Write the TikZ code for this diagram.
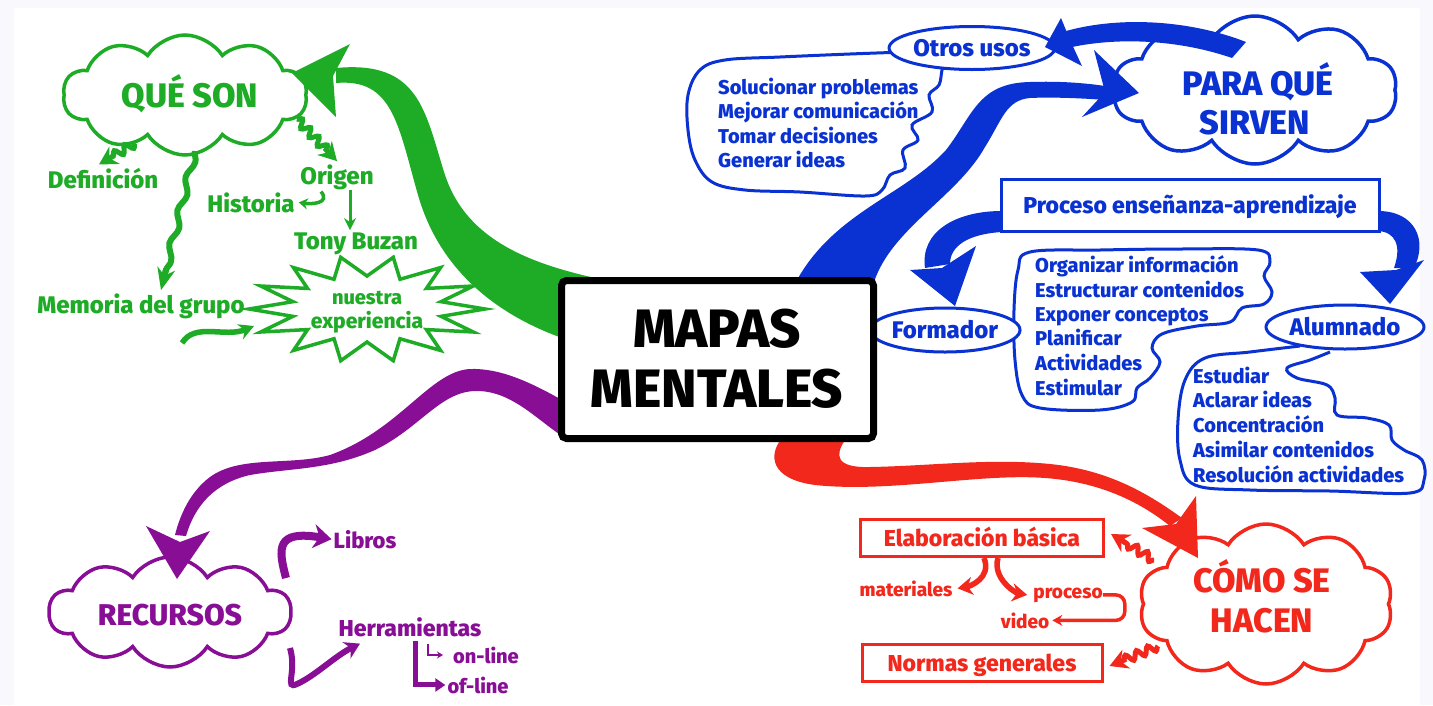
\documentclass[tikz,border=0pt]{standalone}
\usepackage{fontspec}
\setmainfont{Fira Sans}[BoldFont={Fira Sans ExtraBold}]
\usetikzlibrary{shapes.symbols,shapes.geometric,decorations.pathmorphing,arrows.meta,calc}
\definecolor{cgreen}{RGB}{30,172,38}
\definecolor{cblue}{RGB}{10,50,210}
\definecolor{cred}{RGB}{242,40,28}
\definecolor{cpurple}{RGB}{136,14,150}
\definecolor{bgc}{RGB}{248,248,253}
\tikzset{
 cloudn/.style={cloud, cloud puffs=10, cloud puff arc=115, cloud ignores aspect, draw, line width=3.5pt, fill=white, inner sep=0pt},
 bigt/.style={font=\bfseries\fontsize{34}{38}\selectfont, anchor=base, inner sep=0pt},
 lab/.style={font=\bfseries\fontsize{24}{28}\selectfont, anchor=base, inner sep=0pt},
 lst/.style={font=\bfseries\fontsize{20}{24}\selectfont, anchor=base west, inner sep=0pt, text=cblue},
 sml/.style={font=\bfseries\fontsize{19}{22}\selectfont, anchor=base, inner sep=0pt},
 squig/.style={decorate, decoration={snake, amplitude=4pt, segment length=12pt}, line width=5pt},
 squighead/.style={line width=5pt, -{Stealth[length=18pt,width=20pt]}},
 hookarr/.style={line width=5.5pt, -{Stealth[length=15pt,width=18pt]}},
 ovalbox/.style={ellipse, draw=cblue, line width=3pt, fill=white, text=cblue, font=\bfseries\fontsize{24}{28}\selectfont, inner sep=0pt, text height=17pt, text depth=0pt},
 rectbox/.style={rectangle, line width=3pt, fill=white, font=\bfseries\fontsize{23}{27}\selectfont, inner sep=0pt, text height=16pt, text depth=0pt},
 balloon/.style={draw=cblue, line width=3pt, fill=white},
}
\begin{document}
\begin{tikzpicture}[x=1pt,y=-1pt]
\useasboundingbox (0,0) rectangle (1433,705);
\fill[bgc] (0,0) rectangle (1433,705);
\fill[white] (14,8) rectangle (1420,705);

% ================= GREEN =================
\node[cloudn, draw=cgreen, minimum width=244, minimum height=120] (queson) at (185,95) {};
\node[bigt, text=cgreen] (quesonT) at (190,107) {QUÉ SON};
\draw[cgreen, line width=3.5pt, fill=white] plot[samples at={0,...,27}] ({367+(mod(\x,2)==0?118:76)*cos(\x*360/28)}, {309+(mod(\x,2)==0?53:33)*sin(\x*360/28)}) -- cycle;
\node[font=\bfseries\fontsize{20}{24}\selectfont, anchor=base, inner sep=0pt, text=cgreen] (nuestra) at (367,304) {nuestra};
\node[font=\bfseries\fontsize{21}{24}\selectfont, anchor=base, inner sep=0pt, text=cgreen] (experiencia) at (367,328) {experiencia};

\node[lab, text=cgreen] (defin) at (103,188) {Definición};
\node[lab, text=cgreen] (origen) at (337,184) {Origen};
\node[lab, text=cgreen] (historia) at (251,212) {Historia};
\node[lab, text=cgreen] (tony) at (356,249) {Tony Buzan};
\node[lab, text=cgreen] (memoria) at (141,313) {Memoria del grupo};

% squiggly arrows from QUE SON
\coordinate (qs1) at ([shift={(-50,48)}]queson.center);
\coordinate (qd) at ([xshift=-4,yshift=3]defin.north);
\draw[squig, cgreen] (qs1) -- ($(qd)!14pt!(qs1)$);
\draw[squighead, cgreen] ($(qd)!18pt!(qs1)$) -- (qd);
\coordinate (qs2) at ([shift={(112,24)}]queson.center);
\coordinate (qo) at ([xshift=0,yshift=3]origen.north);
\draw[squig, cgreen] (qs2) -- ($(qo)!14pt!(qs2)$);
\draw[squighead, cgreen] ($(qo)!18pt!(qs2)$) -- (qo);
\coordinate (qs3) at ([shift={(10,56)}]queson.center);
\coordinate (qm) at ([xshift=20,yshift=3]memoria.north);
\draw[cgreen, decorate, decoration={snake, amplitude=3pt, segment length=34pt}, line width=6pt] (qs3) -- ($(qm)!18pt!(qs3)$);
\draw[cgreen, line width=6pt, -{Stealth[length=22pt,width=18pt]}] ($(qm)!22pt!(qs3)$) -- (qm);

\draw[cgreen, line width=3pt, -{Stealth[length=12pt,width=12pt]}] ([xshift=13]origen.south) -- ([xshift=-6,yshift=2]tony.north);
\draw[cgreen, line width=3.5pt, -{Stealth[length=9pt,width=11pt]}] ([xshift=-16,yshift=-2]origen.south) .. controls +(10,12) and +(12,2) .. ([xshift=4]historia.east);
\coordinate (mstart) at (182,343);
\coordinate (starW) at (254,326);
\draw[cgreen, line width=5.5pt, -{Stealth[length=15pt,width=16pt]}] (mstart) .. controls (195,322) and (225,338) .. (starW);

\fill[cgreen] (600,279) .. controls (520,262) and (465,235) .. (445,175) .. controls (425,112) and (420,60) .. (336,68) -- (336,83) .. controls (393,78) and (398,125) .. (418,195) .. controls (438,265) and (490,312) .. (562,338) -- cycle;
\fill[cgreen] (292,73) -- (350,44) -- (333,76) -- (336,117) -- cycle;

% ================= PURPLE =================
\node[cloudn, draw=cpurple, minimum width=242, minimum height=110] (recursos) at (170,612) {};
\node[font=\bfseries\fontsize{30}{34}\selectfont, anchor=base, inner sep=0pt, text=cpurple] (recursosT) at (170,625) {RECURSOS};
\fill[cpurple] (562,400) .. controls (530,382) and (500,368) .. (470,369) .. controls (430,371) and (400,430) .. (330,455) .. controls (290,466) and (240,455) .. (210,477) .. controls (190,492) and (180,515) .. (175,535) -- (186,536) .. controls (195,505) and (215,483) .. (250,475) .. controls (290,468) and (330,470) .. (375,450) .. controls (420,428) and (440,392) .. (475,391) .. controls (510,390) and (535,418) .. (562,436) -- cycle;
\fill[cpurple] (177,579) -- (146,526) -- (180,542) -- (210,531) -- cycle;

\node[font=\bfseries\fontsize{22}{26}\selectfont, anchor=base, inner sep=0pt, text=cpurple] (libros) at (365,548) {Libros};
\node[font=\bfseries\fontsize{23}{27}\selectfont, anchor=base, inner sep=0pt, text=cpurple] (herr) at (410,636) {Herramientas};
\node[font=\bfseries\fontsize{20}{24}\selectfont, anchor=base, inner sep=0pt, text=cpurple] (online) at (486,663) {on-line};
\node[font=\bfseries\fontsize{20}{24}\selectfont, anchor=base, inner sep=0pt, text=cpurple] (ofline) at (478,693) {of-line};

\draw[cpurple, line width=8pt, -{Stealth[length=18pt,width=24pt]}] ([shift={(116,-34)}]recursos.center) .. controls (278,548) and (276,530) .. ([xshift=-2]libros.west);
\draw[cpurple, line width=6pt, -{Stealth[length=15pt,width=18pt]}] ([shift={(120,36)}]recursos.center) .. controls (297,672) and (284,690) .. (297,684) .. controls (315,676) and (335,656) .. ([xshift=-50,yshift=-7]herr.south);
\draw[cpurple, line width=5pt, -{Triangle[length=10pt,width=13pt]}] ([xshift=5,yshift=-4]herr.south) |- ([xshift=-2]ofline.west);
\draw[cpurple, line width=1.8pt, -{Stealth[length=6pt,width=7pt]}] ([xshift=-25,yshift=11]online.west) |- ([xshift=-10]online.west);

% ================= BLUE =================
\draw[balloon] plot[smooth, tension=0.6] coordinates {(905,52) (850,54) (780,57) (725,60) (700,70) (688,95) (688,130) (695,160) (712,182) (745,190) (800,192) (865,196) (882,190) (890,175) (905,168) (903,150) (918,140) (912,125) (932,112) (929,95) (939,85) (942,70) (945,62)};
\node[ovalbox, minimum width=148, minimum height=43] (otros) at (972,48) {Otros usos};
\node[lst] (l1) at (718,94) {Solucionar problemas};
\node[lst] (l2) at (718,118) {Mejorar comunicación};
\node[lst] (l3) at (718,143) {Tomar decisiones};
\node[lst] (l4) at (718,167) {Generar ideas};

\node[cloudn, draw=cblue, minimum width=284, minimum height=148] (paraque) at (1255,90) {};
\node[bigt, text=cblue] (paraqueT1) at (1258,95) {PARA QUÉ};
\node[bigt, text=cblue] (paraqueT2) at (1255,134) {SIRVEN};

\node[rectbox, draw=cblue, text=cblue, minimum width=378, minimum height=52] (proceso) at (1190,205) {Proceso enseñanza-aprendizaje};

\draw[balloon] plot[smooth cycle, tension=0.6] coordinates {(1030,252) (1100,250) (1180,249) (1258,250) (1270,262) (1264,276) (1272,292) (1264,304) (1242,308) (1230,322) (1197,326) (1162,334) (1152,348) (1160,362) (1150,378) (1137,388) (1132,402) (1100,410) (1040,408) (1022,395) (1015,360) (1014,310) (1018,270)};
\node[lst] (o1) at (1035,272) {Organizar información};
\node[lst] (o2) at (1035,297) {Estructurar contenidos};
\node[lst] (o3) at (1035,321) {Exponer conceptos};
\node[lst] (o4) at (1035,345) {Planificar};
\node[lst] (o5) at (1035,370) {Actividades};
\node[lst] (o6) at (1035,395) {Estimular};

\draw[balloon] plot[smooth, tension=0.6] coordinates {(1300,346) (1250,352) (1205,358) (1185,380) (1178,420) (1180,460) (1195,485) (1250,490) (1330,491) (1410,493) (1424,480) (1422,460) (1404,450) (1392,440) (1389,425) (1367,418) (1337,415) (1335,398) (1327,385) (1297,378) (1287,368) (1310,360) (1330,352)};
\node[ovalbox, minimum width=130, minimum height=44] (formador) at (945,330) {Formador};
\node[ovalbox, minimum width=158, minimum height=44] (alumnado) at (1345,327) {Alumnado};
\node[lst] (a1) at (1193,383) {Estudiar};
\node[lst] (a2) at (1193,407) {Aclarar ideas};
\node[lst] (a3) at (1193,432) {Concentración};
\node[lst] (a4) at (1193,457) {Asimilar contenidos};
\node[lst] (a5) at (1193,482) {Resolución actividades};

% Formador / Alumnado arrows
\fill[cblue] (1002,211) .. controls (955,211) and (920,232) .. (925,268) -- (950,264) .. controls (950,246) and (968,234) .. (1002,232) -- cycle;
\fill[cblue] (955,306) -- (910,270) -- (942,268) -- (976,246) -- cycle;
\fill[cblue] (1378,211) .. controls (1415,211) and (1428,240) .. (1414,268) -- (1394,268) .. controls (1402,245) and (1395,232) .. (1378,231) -- cycle;
\fill[cblue] (1390,304) -- (1360,272) -- (1396,270) -- (1424,260) -- cycle;

% main blue ribbon
\fill[cblue] (797,280) .. controls (835,212) and (905,195) .. (946,150) .. controls (973,115) and (978,83) .. (1030,82) .. controls (1060,81) and (1085,83) .. (1105,86) -- (1105,100) .. controls (1080,98) and (1050,97) .. (1030,98) .. controls (1006,100) and (1002,120) .. (985,147) .. controls (957,197) and (892,228) .. (874,282) -- cycle;
\fill[cblue] (1139,93) -- (1094,50) -- (1105,92) -- (1082,117) -- cycle;
% otros usos ribbon
\fill[cblue] (1066,31) .. controls (1120,16) and (1190,20) .. (1246,42) -- (1232,58) .. controls (1180,40) and (1120,37) .. (1072,47) -- cycle;
\fill[cblue] (1045,47) -- (1061,18) -- (1070,40) -- (1082,66) -- cycle;

% ================= RED =================
\node[cloudn, draw=cred, minimum width=254, minimum height=160] (como) at (1266,604) {};
\node[bigt, text=cred] (comoT1) at (1262,592) {CÓMO SE};
\node[bigt, text=cred] (comoT2) at (1262,632) {HACEN};
\node[rectbox, draw=cred, text=cred, minimum width=243, minimum height=37] (elab) at (982,538) {Elaboración básica};
\node[rectbox, draw=cred, text=cred, minimum width=240, minimum height=37] (normas) at (982,663) {Normas generales};
\node[sml, text=cred] (materiales) at (906,596) {materiales};
\node[sml, text=cred] (procesoT) at (1068,598) {proceso};
\node[sml, text=cred] (video) at (1025,628) {video};

\coordinate (cs1) at ([shift={(-112,-44)}]como.center);
\coordinate (ce) at ([xshift=6,yshift=4]elab.east);
\draw[squig, cred] (cs1) -- ($(ce)!14pt!(cs1)$);
\draw[squighead, cred] ($(ce)!18pt!(cs1)$) -- (ce);
\coordinate (cs2) at ([shift={(-108,42)}]como.center);
\coordinate (cn) at ([xshift=6,yshift=-3]normas.east);
\draw[squig, cred] (cs2) -- ($(cn)!14pt!(cs2)$);
\draw[squighead, cred] ($(cn)!18pt!(cs2)$) -- (cn);

\draw[hookarr, cred] ([xshift=2]elab.south) .. controls +(8,20) and +(12,-2) .. ([xshift=5]materiales.east);
\draw[hookarr, cred] ([xshift=16]elab.south) .. controls +(-6,20) and +(-12,-2) .. ([xshift=-6]procesoT.west);
\draw[cred, line width=3.5pt, rounded corners=9pt, -{Stealth[length=10pt,width=11pt]}] (procesoT.east) -- ++(22,0) |- ([xshift=3]video.east);

\fill[cred] (845,440) .. controls (835,455) and (835,468) .. (870,467) .. controls (930,466) and (990,458) .. (1050,464) .. controls (1110,470) and (1150,495) .. (1182,518) -- (1170,526) .. controls (1140,502) and (1100,482) .. (1045,478) .. controls (980,473) and (890,493) .. (815,485) .. controls (770,479) and (768,455) .. (782,438) -- cycle;
\fill[cred] (1198,558) -- (1142,528) -- (1176,524) -- (1196,496) -- cycle;

% ================= CENTER =================
\node[draw=black, line width=7pt, rounded corners=5pt, fill=white, minimum width=312, minimum height=158, inner sep=0pt] (mapas) at (717.5,359.5) {};
\node[font=\bfseries\fontsize{54}{60}\selectfont, anchor=base, inner sep=0pt] (mapasT1) at (717,347) {MAPAS};
\node[font=\bfseries\fontsize{54}{60}\selectfont, anchor=base, inner sep=0pt] (mapasT2) at (717,407) {MENTALES};
\end{tikzpicture}
\end{document}
